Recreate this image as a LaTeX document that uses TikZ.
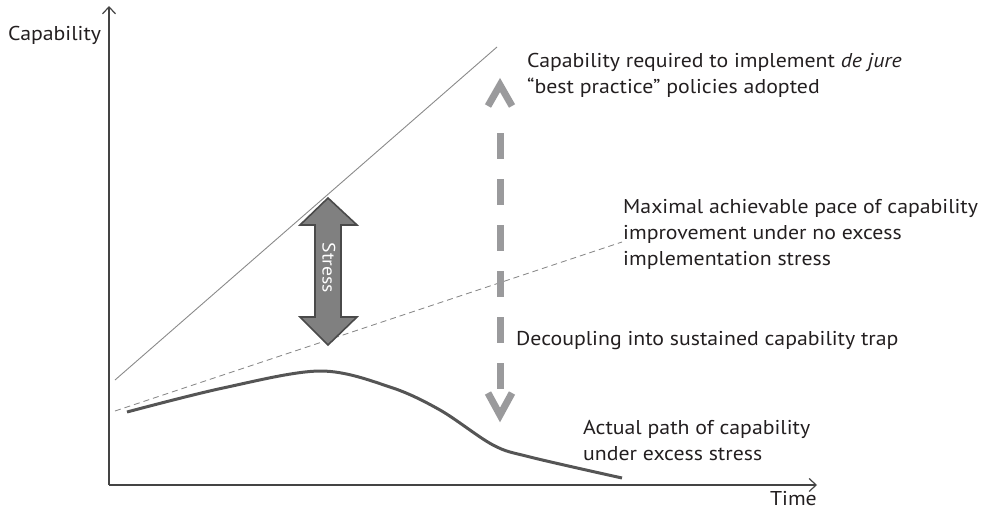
\documentclass[tikz,border=0pt]{standalone}
\usepackage{fontspec}
\setmainfont[FakeStretch=1.09]{PT Sans}
\usetikzlibrary{arrows.meta}
\definecolor{txt}{HTML}{231F20}
\definecolor{axisc}{HTML}{444444}
\definecolor{thinline}{HTML}{8A8A8A}
\definecolor{curvec}{HTML}{555555}
\definecolor{dasharr}{HTML}{9A9A9C}
\definecolor{stressfill}{HTML}{808080}
\definecolor{stressedge}{HTML}{4A4A4A}
\tikzset{
  lbl/.style={anchor=north west, align=left, text=txt, inner sep=0pt, font=\fontsize{20}{26}\selectfont},
  axisline/.style={draw=axisc, line width=1.4pt},
  chevron/.style={draw=dasharr, line width=7pt, miter limit=4},
}
\begin{document}
\begin{tikzpicture}[x=1pt,y=-1pt]
\useasboundingbox (0,0) rectangle (991,514);
% axes
\coordinate (O) at (109,485);
\coordinate (Ytop) at (109,6);
\coordinate (Xend) at (817,485);
\draw[axisline,-{Straight Barb[length=7pt,width=13pt,line width=1.2pt]}] (O) -- (Ytop);
\draw[axisline,-{Straight Barb[length=7pt,width=13pt,line width=1.2pt]}] (O) -- (Xend);
\node[lbl, anchor=west] (ylab) at (8,35) {Capability};
\node[lbl, anchor=north east] (xlab) at (817,491) {Time};
% required line
\coordinate (r1) at (115,380);
\coordinate (r2) at (497,47);
\draw[thinline, line width=0.9pt] (r1) -- (r2);
% maximal pace dashed line
\coordinate (m1) at (115,411);
\coordinate (m2) at (622,242);
\draw[thinline, line width=0.9pt, dash pattern=on 6pt off 4pt] (m1) -- (m2);
% actual path
\draw[curvec, line width=3pt, line cap=butt] plot[smooth, tension=0.55] coordinates {(127,412) (223,388) (320,371) (390,387) (440,410) (493,445) (530,457) (622,478)};
% stress arrow
\draw[fill=stressfill, draw=stressedge, line width=1.6pt, line join=miter]
  (328,198) -- (357,225) -- (341,225) -- (341,317) -- (357,317) -- (328,345)
  -- (300,317) -- (315,317) -- (315,225) -- (300,225) -- cycle;
\node[rotate=-90, text=white, inner sep=0pt, font=\fontsize{18}{22}\selectfont] (stress) at (329,268) {Stress};
% dashed decoupling arrow
\coordinate (dtop) at (500,133);
\coordinate (dbot) at (500,396);
\draw[dasharr, line width=7pt, dash pattern=on 26pt off 20pt] (dtop) -- (dbot);
\draw[chevron] (488,106) -- (500,85) -- (512,106);
\draw[chevron] (488,393) -- (500,415) -- (512,393);
% labels
\node[lbl] (l1) at (527,53) {Capability required to implement \textit{de jure}\\``best practice'' policies adopted};
\node[lbl] (l2) at (623,199) {Maximal achievable pace of capability\\improvement under no excess\\implementation stress};
\node[lbl] (l3) at (516,331) {Decoupling into sustained capability trap};
\node[lbl] (l4) at (583,420) {Actual path of capability\\under excess stress};
\end{tikzpicture}
\end{document}
